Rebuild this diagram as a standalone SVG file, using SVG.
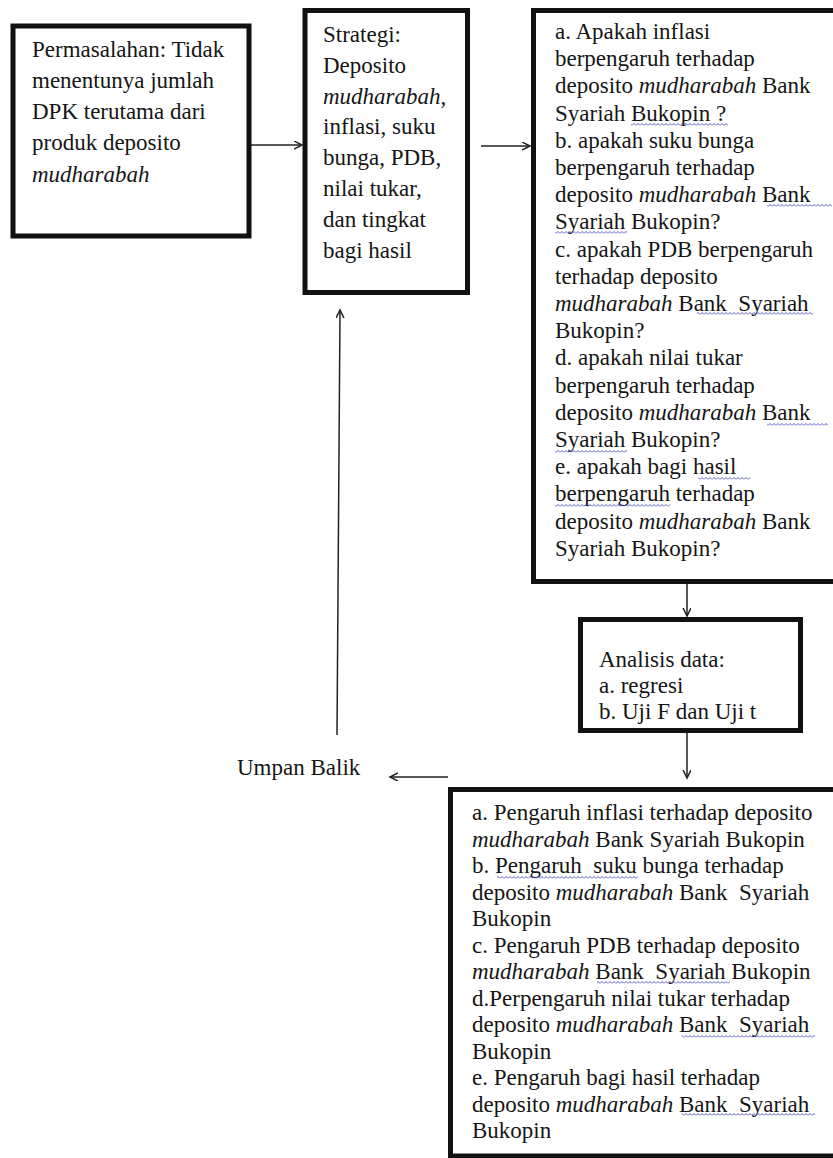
<svg xmlns="http://www.w3.org/2000/svg" width="833" height="1158" viewBox="0 0 833 1158">
<style>
.box{fill:#fff;stroke:#111;stroke-width:5}
.t{font-family:"Liberation Serif","Times New Roman",serif;font-size:23px;fill:#151515;white-space:pre}
.it{font-style:italic}
.con{stroke:#222;stroke-width:1.5;fill:none}
.sq{fill:url(#wave)}
</style>
<defs>
<marker id="ah" markerUnits="userSpaceOnUse" markerWidth="10" markerHeight="10" refX="8" refY="4" orient="auto">
<path d="M0,0 L8,4 L0,8" fill="none" stroke="#222" stroke-width="1.5"/>
</marker>
<pattern id="wave" width="4" height="3" patternUnits="userSpaceOnUse">
<path d="M0,2.5 L2,0.5 L4,2.5" fill="none" stroke="#4646c8" stroke-width="0.9"/>
</pattern>
</defs>
<rect width="833" height="1158" fill="#fff"/>

<g id="connectors">
<line class="con" x1="251" y1="145" x2="302" y2="145" marker-end="url(#ah)"/>
<line class="con" x1="481" y1="146" x2="530" y2="146" marker-end="url(#ah)"/>
<line class="con" x1="687" y1="584" x2="687" y2="616" marker-end="url(#ah)"/>
<line class="con" x1="687" y1="733" x2="687" y2="778" marker-end="url(#ah)"/>
<line class="con" x1="448" y1="777" x2="390" y2="777" marker-end="url(#ah)"/>
<line class="con" x1="337" y1="735" x2="340" y2="310" marker-end="url(#ah)" stroke="#555"/>
</g>

<g id="node-permasalahan">
<rect class="box" x="13" y="26" width="236" height="210" stroke-width="4.5"/>
<text class="t">
<tspan x="32" y="57">Permasalahan: Tidak</tspan>
<tspan x="32" y="88">menentunya jumlah</tspan>
<tspan x="32" y="119">DPK terutama dari</tspan>
<tspan x="32" y="150">produk deposito</tspan>
<tspan x="32" y="182" class="it">mudharabah</tspan>
</text>
</g>

<g id="node-strategi">
<rect class="box" x="305" y="10.5" width="162.5" height="282"/>
<text class="t">
<tspan x="323" y="42">Strategi:</tspan>
<tspan x="323" y="73">Deposito</tspan>
<tspan x="323" y="104"><tspan class="it">mudharabah</tspan>,</tspan>
<tspan x="323" y="134">inflasi, suku</tspan>
<tspan x="323" y="165">bunga, PDB,</tspan>
<tspan x="323" y="196">nilai tukar,</tspan>
<tspan x="323" y="227">dan tingkat</tspan>
<tspan x="323" y="258">bagi hasil</tspan>
</text>
</g>

<g id="node-rumusan">
<rect class="box" x="533.5" y="10.5" width="320" height="571"/>
<text class="t">
<tspan x="555" y="39">a. Apakah inflasi</tspan>
<tspan x="555" y="66.2">berpengaruh terhadap</tspan>
<tspan x="555" y="93.4">deposito <tspan class="it">mudharabah</tspan> Bank</tspan>
<tspan x="555" y="120.6">Syariah Bukopin ?</tspan>
<tspan x="555" y="147.8">b. apakah suku bunga</tspan>
<tspan x="555" y="175">berpengaruh terhadap</tspan>
<tspan x="555" y="202.2">deposito <tspan class="it">mudharabah</tspan> Bank</tspan>
<tspan x="555" y="229.4">Syariah Bukopin?</tspan>
<tspan x="555" y="256.6">c. apakah PDB berpengaruh</tspan>
<tspan x="555" y="283.8">terhadap deposito</tspan>
<tspan x="555" y="311"><tspan class="it">mudharabah</tspan> Bank  Syariah</tspan>
<tspan x="555" y="338.2">Bukopin?</tspan>
<tspan x="555" y="365.4">d. apakah nilai tukar</tspan>
<tspan x="555" y="392.6">berpengaruh terhadap</tspan>
<tspan x="555" y="419.8">deposito <tspan class="it">mudharabah</tspan> Bank</tspan>
<tspan x="555" y="447">Syariah Bukopin?</tspan>
<tspan x="555" y="474.2">e. apakah bagi hasil</tspan>
<tspan x="555" y="501.4">berpengaruh terhadap</tspan>
<tspan x="555" y="528.6">deposito <tspan class="it">mudharabah</tspan> Bank</tspan>
<tspan x="555" y="555.8">Syariah Bukopin?</tspan>
</text>
<rect class="sq" x="631" y="123" width="97" height="3"/>
<rect class="sq" x="767" y="204" width="65" height="3"/>
<rect class="sq" x="555" y="231" width="72" height="3"/>
<rect class="sq" x="697" y="312" width="116" height="3"/>
<rect class="sq" x="767" y="423" width="61" height="3"/>
<rect class="sq" x="555" y="450" width="72" height="3"/>
<rect class="sq" x="698" y="477" width="52" height="3"/>
<rect class="sq" x="555" y="504" width="115" height="3"/>
</g>

<g id="node-analisis">
<rect class="box" x="580.5" y="619.5" width="220" height="111"/>
<text class="t">
<tspan x="599" y="667">Analisis data:</tspan>
<tspan x="599" y="693">a. regresi</tspan>
<tspan x="599" y="719">b. Uji F dan Uji t</tspan>
</text>
</g>

<g id="node-hasil">
<rect class="box" x="450.5" y="789.5" width="400" height="366.5"/>
<text class="t">
<tspan x="472" y="820">a. Pengaruh inflasi terhadap deposito</tspan>
<tspan x="472" y="846.5"><tspan class="it">mudharabah</tspan> Bank Syariah Bukopin</tspan>
<tspan x="472" y="873">b. Pengaruh  suku bunga terhadap</tspan>
<tspan x="472" y="899.5">deposito <tspan class="it">mudharabah</tspan> Bank  Syariah</tspan>
<tspan x="472" y="926">Bukopin</tspan>
<tspan x="472" y="952.5">c. Pengaruh PDB terhadap deposito</tspan>
<tspan x="472" y="979"><tspan class="it">mudharabah</tspan> Bank  Syariah Bukopin</tspan>
<tspan x="472" y="1005.5">d.Perpengaruh nilai tukar terhadap</tspan>
<tspan x="472" y="1032">deposito <tspan class="it">mudharabah</tspan> Bank  Syariah</tspan>
<tspan x="472" y="1058.5">Bukopin</tspan>
<tspan x="472" y="1085">e. Pengaruh bagi hasil terhadap</tspan>
<tspan x="472" y="1111.5">deposito <tspan class="it">mudharabah</tspan> Bank  Syariah</tspan>
<tspan x="472" y="1138">Bukopin</tspan>
</text>
<rect class="sq" x="497" y="876" width="141" height="3"/>
<rect class="sq" x="597" y="981" width="133" height="3"/>
<rect class="sq" x="682" y="1035" width="133" height="3"/>
<rect class="sq" x="682" y="1113" width="133" height="3"/>
</g>

<g id="node-umpan-balik">
<text class="t" x="237" y="775">Umpan Balik</text>
</g>
</svg>
